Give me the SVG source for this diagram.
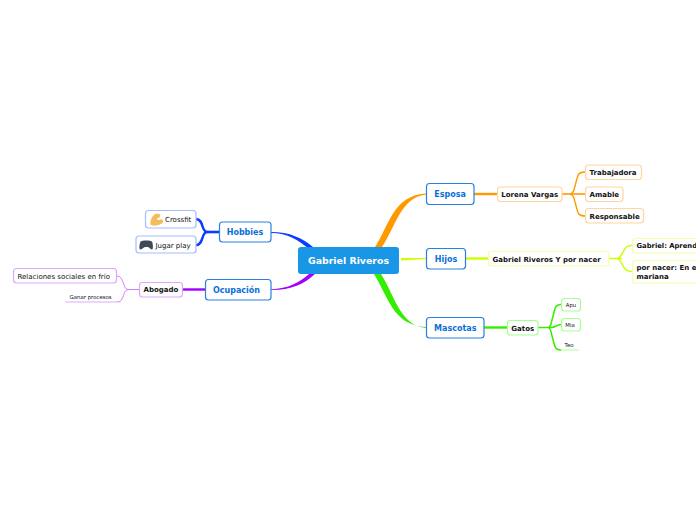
<svg xmlns="http://www.w3.org/2000/svg" width="696" height="520" viewBox="0 0 696 520">
<style>
text{font-family:"DejaVu Sans","Liberation Sans",sans-serif;fill:#111}
.b{fill:#fff;stroke-width:1.2}
.t1{font-size:8px;font-weight:bold;fill:#0a6fd8}
.t2{font-size:7px;font-weight:bold}
.t3{font-size:7px}
.t4{font-size:5.4px}
.c{fill:none}
.blue{stroke:#2a80e0}
.or{stroke:#ffd5a0}.lim{stroke:#f0ffa8}.gr{stroke:#a5ff95}.pu{stroke:#dca8ff}.bl{stroke:#a5bcff}
</style>
<rect width="696" height="520" fill="#fff"/>
<g id="connectors">
<path d="M375 247C389 226 393 195 426.500 193.500V194.500C401 197 396 226 382 247Z" fill="#ff9900"/>
<path d="M401 258L426.500 258V259L401 260.500Z" fill="#ccff00"/>
<path d="M374 274C388 296 393 326 426.500 327V328C400 326 395 296 381 274Z" fill="#33ee00"/>
<path d="M271 232C290 232 302 238 313 247L309 249C298 240 288 233 271 233Z" fill="#0a3cff"/>
<path d="M271 289.200C288 289 300 282 309 274L315 274C304 284 292 290 271 290Z" fill="#a000ff"/>
<path class="c" d="M474 194H497" stroke="#ff9900" stroke-width="2.400"/>
<path class="c" d="M562 194H585" stroke="#ff9900" stroke-width="1.600"/>
<path class="c" d="M585 172C577 172 578 176 575 186C574 191 573 194 570 194C573 194 574 197 575 202C578 212 577 216 585 216" stroke="#ff9900" stroke-width="1.400"/>
<path class="c" d="M465.500 258.500H488" stroke="#ccff00" stroke-width="2.400"/>
<path class="c" d="M609 258.500H622M632 245.500C625 245.500 625 249 622 254C620 257 619 258.500 617 258.500C619 258.500 620 261 622 264C625 269 625 271.500 632 271.500" stroke="#ccff00" stroke-width="1.500"/>
<path class="c" d="M484 327.500H507" stroke="#33ee00" stroke-width="2.400"/>
<path class="c" d="M538 327.500H552M561 304.500C554 304.500 555 310 552 320C551 325 550 327.500 548 327.500C550 327.500 551 330 552 336C555 346 554 350 561 350M552 327.500C555 327 557 325 561 324.500" stroke="#33ee00" stroke-width="1.500"/>
<path class="c" d="M561 350H579" stroke="#a5ff95" stroke-width="1"/>
<path class="c" d="M219 232H205" stroke="#0a3cff" stroke-width="2.600"/>
<path class="c" d="M207 232C201 232 204 219 196 219M207 232C201 232 204 245 196 245" stroke="#0a3cff" stroke-width="2.400"/>
<path class="c" d="M205 289.500H183" stroke="#a000ff" stroke-width="2.400"/>
<path class="c" d="M139 289.500H128C123 289.500 124 276 117 276M128 289.500C123 289.500 124 302 118 302" stroke="#cc80ff" stroke-width="1"/>
<path class="c" d="M118 302H65.500" stroke="#dca8ff" stroke-width="1"/>
</g>
<g id="center"><rect x="298" y="247" width="101" height="27" rx="3" fill="#1a96e6"/><text x="348.500" y="264" text-anchor="middle" style="font-size:9.400px;font-weight:bold;fill:#fff">Gabriel Riveros</text></g>
<g id="esposa"><rect class="b blue" x="426.500" y="183.500" width="47.500" height="21" rx="3"/><text class="t1" x="450" y="197" text-anchor="middle">Esposa</text></g>
<g id="hijos"><rect class="b blue" x="426.500" y="248.500" width="39" height="20.500" rx="3"/><text class="t1" x="446" y="261.500" text-anchor="middle">Hijos</text></g>
<g id="mascotas"><rect class="b blue" x="426.500" y="317.500" width="57.500" height="20.500" rx="3"/><text class="t1" x="455.250" y="331" text-anchor="middle">Mascotas</text></g>
<g id="hobbies"><rect class="b blue" x="219.500" y="222" width="51.500" height="20" rx="3"/><text class="t1" x="245" y="235" text-anchor="middle">Hobbies</text></g>
<g id="ocupacion"><rect class="b blue" x="205.500" y="279.500" width="65.500" height="20.500" rx="3"/><text class="t1" x="236.500" y="292.500" text-anchor="middle">Ocupación</text></g>
<g id="lorena"><rect class="b or" x="497.500" y="187" width="64.500" height="14.500" rx="3"/><text class="t2" x="529.700" y="197" text-anchor="middle">Lorena Vargas</text></g>
<g id="trabajadora"><rect class="b or" x="585.500" y="165" width="56" height="14.500" rx="3"/><text class="t2" x="589.500" y="175">Trabajadora</text></g>
<g id="amable"><rect class="b or" x="585.500" y="187" width="37.500" height="14.500" rx="3"/><text class="t2" x="589.500" y="197">Amable</text></g>
<g id="responsable"><rect class="b or" x="585.500" y="208.500" width="58" height="14.500" rx="3"/><text class="t2" x="589.500" y="219">Responsable</text></g>
<g id="padres"><rect class="b lim" x="488.500" y="251.500" width="120.500" height="14.500" rx="3"/><text class="t2" x="492.500" y="261.500">Gabriel Riveros Y por nacer</text></g>
<g id="aprend"><rect class="b lim" x="632.500" y="238.500" width="80" height="14.500" rx="3"/><text class="t2" x="636.500" y="248" style="font-size:6.800px">Gabriel: Aprend</text></g>
<g id="pornacer"><rect class="b lim" x="632.500" y="260.500" width="80" height="22.500" rx="3"/><text class="t2" x="636.500" y="270">por nacer: En e</text><text class="t2" x="636.500" y="279">mariana</text></g>
<g id="gatos"><rect class="b gr" x="507.500" y="320.500" width="30.500" height="14.500" rx="3"/><text class="t2" x="522.750" y="330.500" text-anchor="middle">Gatos</text></g>
<g id="apu"><rect class="b gr" x="561.500" y="298.500" width="19" height="12.500" rx="3"/><text class="t4" x="571" y="307" text-anchor="middle">Apu</text></g>
<g id="mia"><rect class="b gr" x="561.500" y="318.500" width="19" height="12.500" rx="3"/><text class="t4" x="570" y="327" text-anchor="middle">Mia</text></g>
<g id="teo"><text class="t4" x="564.500" y="346.500">Teo</text></g>
<g id="crossfit"><rect class="b bl" x="145.500" y="210.500" width="50.500" height="17.500" rx="3"/>
<path d="M150.500 224.500C149.500 220 153.500 213.500 157 213.500L160.500 214.500L159.500 217.500L157.500 218C157 220.500 158.500 220.500 160 219.500C162 218.500 163.500 220 163 222C162.500 225 152.500 227 150.500 224.500Z" fill="#f3bd5d"/>
<text class="t3" x="165" y="222">Crossfit</text></g>
<g id="jugar"><rect class="b bl" x="136" y="236" width="60" height="17" rx="3"/>
<path d="M140.500 249.500C138.500 249.500 139.500 244 140.500 241.500C141.500 240 151 240 152 241.500C153 244 153.500 249.500 152 249.500C150 249.500 149.500 247 148 247H145C143.500 247 142.500 249.500 140.500 249.500Z" fill="#3e4a57"/>
<text class="t3" x="155.500" y="248">Jugar play</text></g>
<g id="abogado"><rect class="b pu" x="139.500" y="282.500" width="43" height="14.500" rx="3"/><text class="t2" x="161" y="292" text-anchor="middle">Abogado</text></g>
<g id="relaciones"><rect class="b pu" x="13.500" y="268.500" width="103" height="14.500" rx="3"/><text class="t3" x="17.500" y="279">Relaciones sociales en frío</text></g>
<g id="ganar"><text class="t4" x="69.500" y="299">Ganar procesos</text></g>
</svg>
